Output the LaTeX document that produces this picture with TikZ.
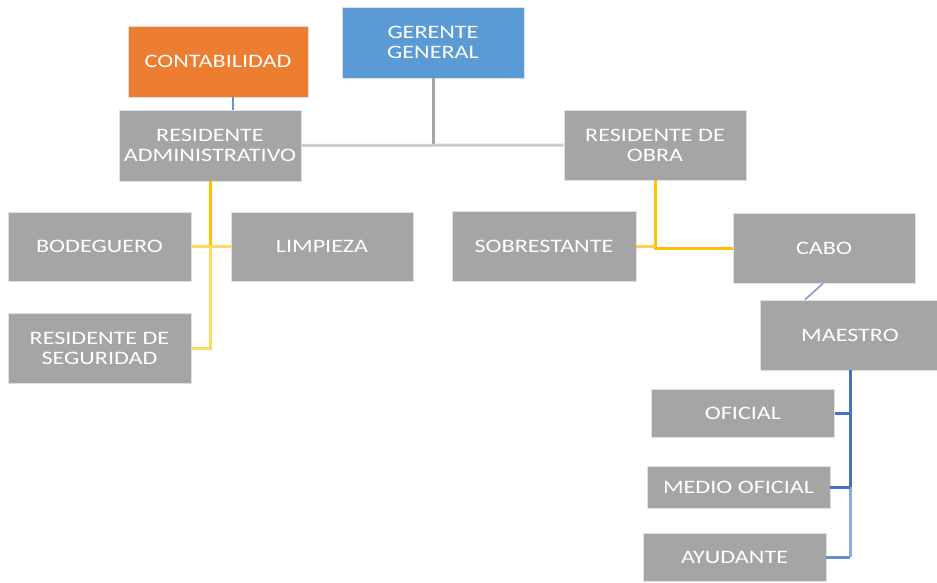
\documentclass[tikz,border=0pt]{standalone}
\usepackage{fontspec}
\setmainfont{Carlito}[FakeStretch=1.27]
\usetikzlibrary{positioning}

\definecolor{cargo}{HTML}{A5A5A5}
\definecolor{gerencia}{HTML}{5B9BD5}
\definecolor{contable}{HTML}{ED7D31}
\definecolor{oro}{HTML}{FFC000}
\definecolor{oroclaro}{HTML}{FFD966}
\definecolor{azul}{HTML}{4472C4}
\definecolor{azulclaro}{HTML}{8FAADC}

\begin{document}
\begin{tikzpicture}[x=1pt, y=-1pt,
  puesto/.style={rectangle, fill=cargo, draw=white!88!black, line width=0.8pt,
    text=white, font=\fontsize{19}{20}\selectfont, align=center,
    inner sep=0pt, minimum width=182pt, minimum height=70pt},
  enlace/.style={line width=3pt, draw=cargo},
  enlaceclaro/.style={line width=3pt, draw=white!80!black}]

\useasboundingbox (0,0) rectangle (937,583);

\node[puesto, fill=gerencia, minimum height=71pt] (gerente) at (433,42.5) {GERENTE\\GENERAL};
\node[puesto, fill=contable, minimum width=180pt, minimum height=71pt] (contab) at (218,61.5) {CONTABILIDAD};
\node[puesto, minimum height=71pt] (resadm) at (210,145.5) {RESIDENTE\\ADMINISTRATIVO};
\node[puesto] (resobra) at (655,145) {RESIDENTE DE\\OBRA};
\node[puesto, minimum width=183pt, minimum height=69pt] (bodeg) at (99.5,246.5) {BODEGUERO};
\node[puesto, minimum height=69pt] (limp) at (322,246.5) {LIMPIEZA};
\node[puesto, minimum width=183pt] (resseg) at (99.5,348) {RESIDENTE DE\\SEGURIDAD};
\node[puesto, minimum width=184pt] (sobre) at (544,246) {SOBRESTANTE};
\node[puesto] (cabo) at (824,248) {CABO};
\node[puesto, minimum width=180pt] (maestro) at (850,335) {MAESTRO};
\node[puesto, minimum width=183pt, minimum height=48pt] (oficial) at (743,413) {OFICIAL};
\node[puesto, minimum width=183pt, minimum height=42pt] (medio) at (738.5,487) {MEDIO OFICIAL};
\node[puesto, minimum width=183pt, minimum height=48pt] (ayud) at (734.5,557) {AYUDANTE};

% gerencia
\draw[enlace] (gerente.south) -- (gerente.south |- resadm.east);
\draw[enlaceclaro] (resadm.east) -- (resobra.west);
\draw[line width=1.6pt, gerencia] ([xshift=15pt]contab.south) -- ([xshift=15pt]contab.south |- resadm.north);

% administracion
\draw[line width=3pt, oro] (resadm.south) -- (resadm.south |- bodeg.east);
\draw[line width=3pt, oroclaro] (resadm.south |- bodeg.east) -- (resadm.south |- resseg.east) -- (resseg.east);
\draw[line width=3pt, oroclaro] (bodeg.east) -- (limp.west);

% obra
\draw[line width=3pt, oro] (resobra.south) -- (resobra.south |- cabo.west) -- (cabo.west);
\draw[line width=3pt, oro!70!white] (sobre.east) -- (sobre.east -| resobra.south);
\draw[line width=1.6pt, azul!70!white] ([xshift=-1pt]cabo.south) -- ([xshift=-45pt]maestro.north);

% cuadrilla
\draw[line width=3pt, azul] (maestro.south) -- (maestro.south |- medio.east);
\draw[line width=3pt, azulclaro] (maestro.south |- medio.east) -- (maestro.south |- ayud.east);
\draw[line width=3pt, azul!80!white] (maestro.south |- ayud.east) -- (ayud.east);
\draw[line width=3pt, azul] (oficial.east) -- (oficial.east -| maestro.south);
\draw[line width=3pt, azul] (medio.east) -- (medio.east -| maestro.south);

\end{tikzpicture}
\end{document}
